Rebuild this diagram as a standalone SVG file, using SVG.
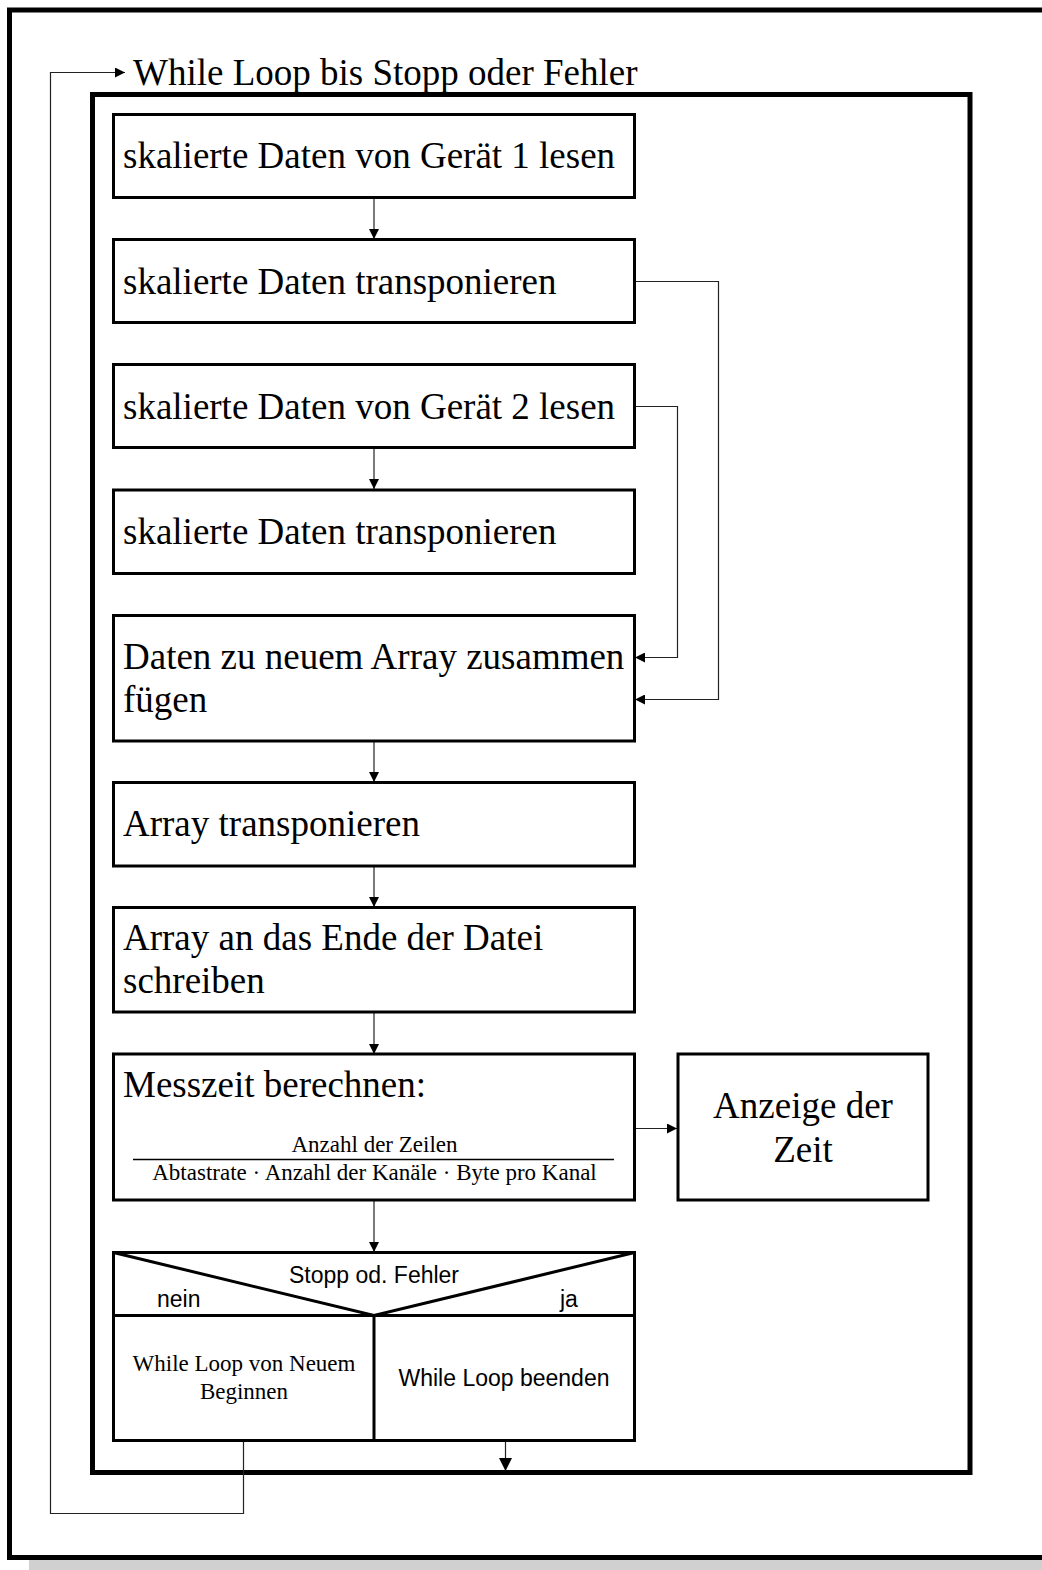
<svg xmlns="http://www.w3.org/2000/svg" width="1042" height="1570" viewBox="0 0 1042 1570">
  <style>
    .frame { fill: none; stroke: #000; stroke-width: 5; }
    .box { fill: #fff; stroke: #000; stroke-width: 3; }
    .line { fill: none; stroke: #222; stroke-width: 1.2; }
    .serif { font-family: "Liberation Serif", "Times New Roman", serif; fill: #000; }
    .sans { font-family: "Liberation Sans", Arial, sans-serif; fill: #000; }
    .big { font-size: 37px; }
    .small { font-size: 23px; }
  </style>
  <defs>
    <marker id="arr" viewBox="0 0 10 10" refX="10" refY="5" markerWidth="10" markerHeight="10" markerUnits="userSpaceOnUse" orient="auto">
      <path d="M0,0 L10,5 L0,10 Z" fill="#000"/>
    </marker>
    <marker id="arrBig" viewBox="0 0 10 10" refX="10" refY="5" markerWidth="13" markerHeight="13" markerUnits="userSpaceOnUse" orient="auto">
      <path d="M0,0 L10,5 L0,10 Z" fill="#000"/>
    </marker>
  </defs>

  <rect width="1042" height="1570" fill="#fff"/>

  <!-- page frame with drop shadow -->
  <rect x="29" y="1560" width="1013" height="10" fill="#d0d0d0"/>
  <rect class="frame" x="9.5" y="10" width="1040" height="1547.5"/>

  <!-- loop frame -->
  <rect class="frame" x="92.5" y="94.5" width="877.5" height="1378"/>
  <text class="serif big" x="133" y="85">While Loop bis Stopp oder Fehler</text>

  <g id="connectors">
    <line class="line" x1="374" y1="197" x2="374" y2="239" marker-end="url(#arr)"/>
    <line class="line" x1="374" y1="447" x2="374" y2="489" marker-end="url(#arr)"/>
    <line class="line" x1="374" y1="741" x2="374" y2="782" marker-end="url(#arr)"/>
    <line class="line" x1="374" y1="866" x2="374" y2="907" marker-end="url(#arr)"/>
    <line class="line" x1="374" y1="1012" x2="374" y2="1054" marker-end="url(#arr)"/>
    <line class="line" x1="374" y1="1200" x2="374" y2="1252" marker-end="url(#arr)"/>
    <polyline class="line" points="635,281.5 718.5,281.5 718.5,699.5 635,699.5" marker-end="url(#arr)"/>
    <polyline class="line" points="635,406.5 677.5,406.5 677.5,657.5 635,657.5" marker-end="url(#arr)"/>
    <line class="line" x1="635" y1="1128.5" x2="677" y2="1128.5" marker-end="url(#arr)"/>
    <line class="line" x1="505.5" y1="1441" x2="505.5" y2="1471" marker-end="url(#arrBig)"/>
    <polyline class="line" points="243.5,1441 243.5,1513.5 50.5,1513.5 50.5,72.5 125,72.5" marker-end="url(#arr)"/>
  </g>

  <g id="read1">
    <rect class="box" x="113.5" y="114.5" width="521" height="83"/>
    <text class="serif big" x="123" y="168">skalierte Daten von Gerät 1 lesen</text>
  </g>
  <g id="transpose1">
    <rect class="box" x="113.5" y="239.5" width="521" height="83"/>
    <text class="serif big" x="123" y="294">skalierte Daten transponieren</text>
  </g>
  <g id="read2">
    <rect class="box" x="113.5" y="364.5" width="521" height="83"/>
    <text class="serif big" x="123" y="419">skalierte Daten von Gerät 2 lesen</text>
  </g>
  <g id="transpose2">
    <rect class="box" x="113.5" y="490" width="521" height="83.5"/>
    <text class="serif big" x="123" y="544">skalierte Daten transponieren</text>
  </g>
  <g id="merge">
    <rect class="box" x="113.5" y="615.5" width="521" height="125.5"/>
    <text class="serif big" x="123" y="669">Daten zu neuem Array zusammen</text>
    <text class="serif big" x="123" y="712">fügen</text>
  </g>
  <g id="transposeArray">
    <rect class="box" x="113.5" y="782.5" width="521" height="83.5"/>
    <text class="serif big" x="123" y="836">Array transponieren</text>
  </g>
  <g id="write">
    <rect class="box" x="113.5" y="907.5" width="521" height="104.5"/>
    <text class="serif big" x="123" y="950">Array an das Ende der Datei</text>
    <text class="serif big" x="123" y="993">schreiben</text>
  </g>
  <g id="measureTime">
    <rect class="box" x="113.5" y="1054" width="521" height="146"/>
    <text class="serif big" x="123" y="1097">Messzeit berechnen:</text>
    <text class="serif small" x="374.5" y="1152" text-anchor="middle">Anzahl der Zeilen</text>
    <line x1="133" y1="1159.5" x2="614" y2="1159.5" stroke="#000" stroke-width="1.5"/>
    <text class="serif small" x="374.5" y="1180" text-anchor="middle">Abtastrate · Anzahl der Kanäle · Byte pro Kanal</text>
  </g>
  <g id="showTime">
    <rect class="box" x="678" y="1054" width="250" height="146"/>
    <text class="serif big" x="803" y="1118" text-anchor="middle">Anzeige der</text>
    <text class="serif big" x="803" y="1162" text-anchor="middle">Zeit</text>
  </g>
  <g id="decision">
    <rect class="box" x="113.5" y="1252.5" width="521" height="188"/>
    <line x1="113.5" y1="1315.5" x2="634.5" y2="1315.5" stroke="#000" stroke-width="3"/>
    <polyline points="113.5,1252.5 374,1315.5 634.5,1252.5" fill="none" stroke="#000" stroke-width="3"/>
    <line x1="374" y1="1315.5" x2="374" y2="1440.5" stroke="#000" stroke-width="3"/>
    <text class="sans small" x="374" y="1283" text-anchor="middle">Stopp od. Fehler</text>
    <text class="sans small" x="157" y="1307">nein</text>
    <text class="sans small" x="560" y="1307">ja</text>
    <text class="serif small" x="244" y="1371" text-anchor="middle">While Loop von Neuem</text>
    <text class="serif small" x="244" y="1399" text-anchor="middle">Beginnen</text>
    <text class="sans small" x="504" y="1386" text-anchor="middle">While Loop beenden</text>
  </g>
</svg>
